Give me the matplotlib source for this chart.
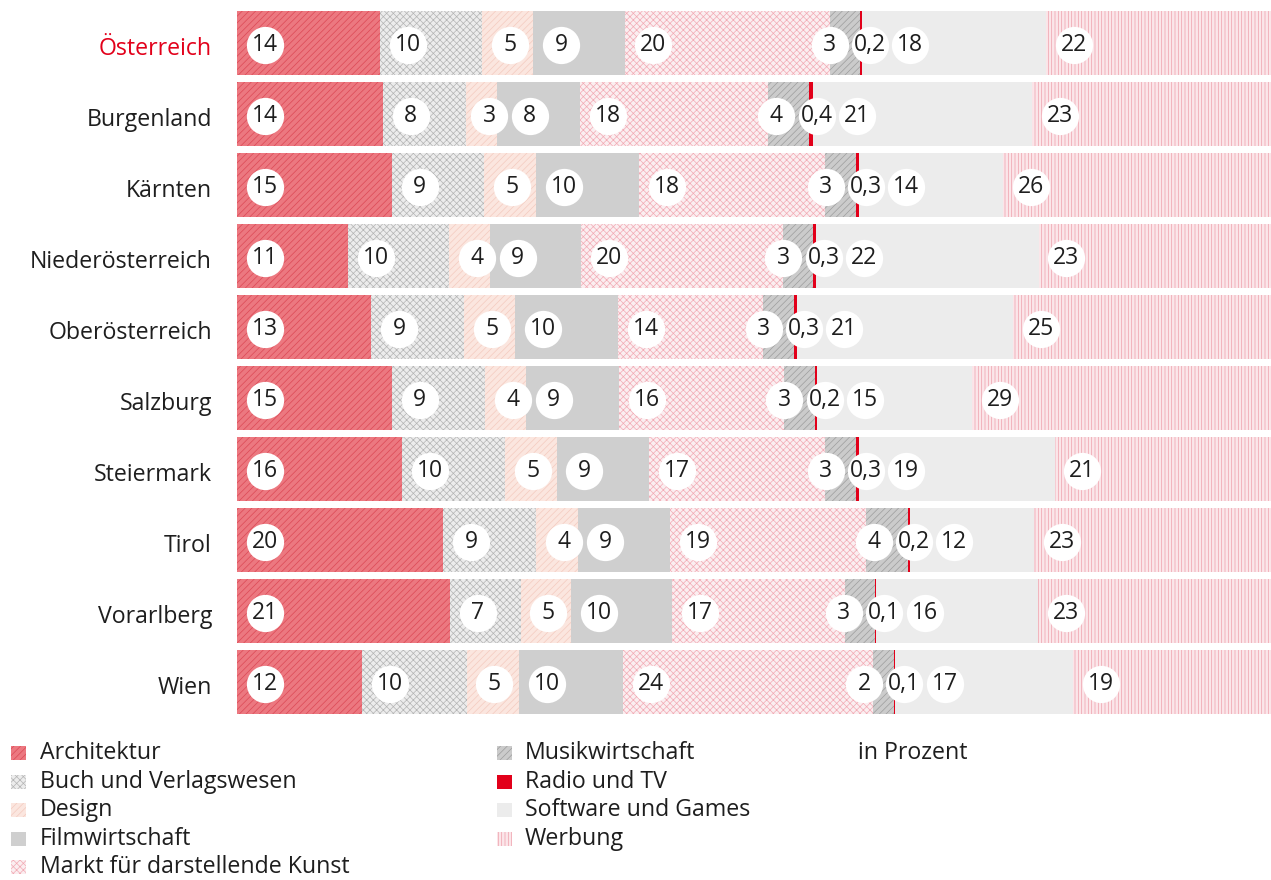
import numpy as np
import matplotlib.pyplot as plt
from matplotlib.patches import Rectangle
from matplotlib.transforms import blended_transform_factory

plt.rcParams['font.family'] = ['Open Sans', 'DejaVu Sans']
plt.rcParams['hatch.linewidth'] = 0.5

# daten
laender = ['Österreich', 'Burgenland', 'Kärnten', 'Niederösterreich', 'Oberösterreich',
           'Salzburg', 'Steiermark', 'Tirol', 'Vorarlberg', 'Wien']
sparten = ['Architektur', 'Buch und Verlagswesen', 'Design', 'Filmwirtschaft',
           'Markt für darstellende Kunst', 'Musikwirtschaft', 'Radio und TV',
           'Software und Games', 'Werbung']

architektur = [14, 14, 15, 11, 13, 15, 16, 20, 21, 12]
buch = [10, 8, 9, 10, 9, 9, 10, 9, 7, 10]
design = [5, 3, 5, 4, 5, 4, 5, 4, 5, 5]
film = [9, 8, 10, 9, 10, 9, 9, 9, 10, 10]
markt = [20, 18, 18, 20, 14, 16, 17, 19, 17, 24]
musik = [3, 4, 3, 3, 3, 3, 3, 4, 3, 2]
radio = [0.2, 0.4, 0.3, 0.3, 0.3, 0.2, 0.3, 0.2, 0.1, 0.1]
software = [18, 21, 14, 22, 21, 15, 19, 12, 16, 17]
werbung = [22, 23, 26, 23, 25, 29, 21, 23, 23, 19]

werte = np.array([architektur, buch, design, film, markt, musik, radio, software, werbung]).T

# (grundfarbe, musterfarbe, muster)
stile = [
    ('#ec7880', '#dc4854', '/////'),
    ('#ececec', '#b4b4b4', 'xxxxx'),
    ('#fbe6df', '#f4cabf', '/////'),
    ('#cfcfcf', '#cfcfcf', None),
    ('#fbeef0', '#f2aab4', 'xxxxx'),
    ('#cbcbcb', '#9c9c9c', '/////'),
    ('#e2001a', '#e2001a', None),
    ('#ececec', '#ececec', None),
    ('#fbe6e9', '#ef9eaa', '|||||'),
]

fig = plt.figure(figsize=(12.71, 8.80), dpi=100)
ax = fig.add_axes([237 / 1271, 166 / 880, 1034 / 1271, 703 / 880])

anteile = werte / werte.sum(axis=1, keepdims=True) * 100
y = np.arange(len(laender))
links = np.zeros(len(laender))
for j in range(len(sparten)):
    fc, hc, h = stile[j]
    ax.barh(y, anteile[:, j], left=links, height=0.9, color=fc, edgecolor=hc,
            linewidth=0, hatch=h)
    links += anteile[:, j]

ax.set_xlim(0, 100)
ax.set_ylim(len(laender) - 0.55, -0.45)
ax.axis('off')

# wert-kreise, ueberlappungen aufloesen
abstand = 3.9
versatz = 2.7


def platzieren(wunsch):
    gruppen = []
    for w in wunsch:
        gruppen.append([w])
        while len(gruppen) > 1:
            a, b = gruppen[-2], gruppen[-1]
            a_ende = np.mean(a) + (len(a) - 1) / 2 * abstand
            b_start = np.mean(b) - (len(b) - 1) / 2 * abstand
            if b_start - a_ende < abstand:
                gruppen[-2:] = [a + b]
            else:
                break
    pos = []
    for g in gruppen:
        m = np.mean(g)
        pos += [m + (k - (len(g) - 1) / 2) * abstand for k in range(len(g))]
    return pos


for i in range(len(laender)):
    starts = np.concatenate([[0], np.cumsum(anteile[i])[:-1]])
    wunsch = [s + min(versatz, b) for s, b in zip(starts, anteile[i])]
    xs = platzieren(wunsch)
    ax.scatter(xs, [i + 0.03] * len(xs), s=720, color='white', zorder=3, linewidths=0)
    for x, v in zip(xs, werte[i]):
        txt = f'{v:.1f}'.replace('.', ',') if v < 1 else f'{v:.0f}'
        ax.text(x, i + 0.03, txt, ha='center', va='center', fontsize=16.5,
                color='#1e1e1e', zorder=4)

trans = blended_transform_factory(fig.transFigure, ax.transData)
for i, land in enumerate(laender):
    fig.text(212 / 1271, 0, land, transform=trans, ha='right', va='center',
             fontsize=16.7, color='#e2001a' if i == 0 else '#1e1e1e')
    fig.texts[-1].set_y(i + 0.08)

# legende
spalten = [(11, 40, 0), (497, 525, 5)]
for (qx, tx, von) in spalten:
    for k in range(5):
        j = von + k
        if j >= len(sparten):
            break
        yy = 880 - (753 + k * 28.5)
        fc, hc, h = stile[j]
        fig.add_artist(Rectangle((qx / 1271, (yy - 7) / 880), 15 / 1271, 14 / 880,
                                 transform=fig.transFigure, facecolor=fc, edgecolor=hc,
                                 linewidth=0, hatch=h))
        fig.text(tx / 1271, yy / 880, sparten[j], ha='left', va='center',
                 fontsize=16.7, color='#1e1e1e')

fig.text(858 / 1271, (880 - 753) / 880, 'in Prozent', ha='left', va='center',
         fontsize=16.7, color='#1e1e1e')

fig.savefig('out.png', dpi=100, facecolor='white')
